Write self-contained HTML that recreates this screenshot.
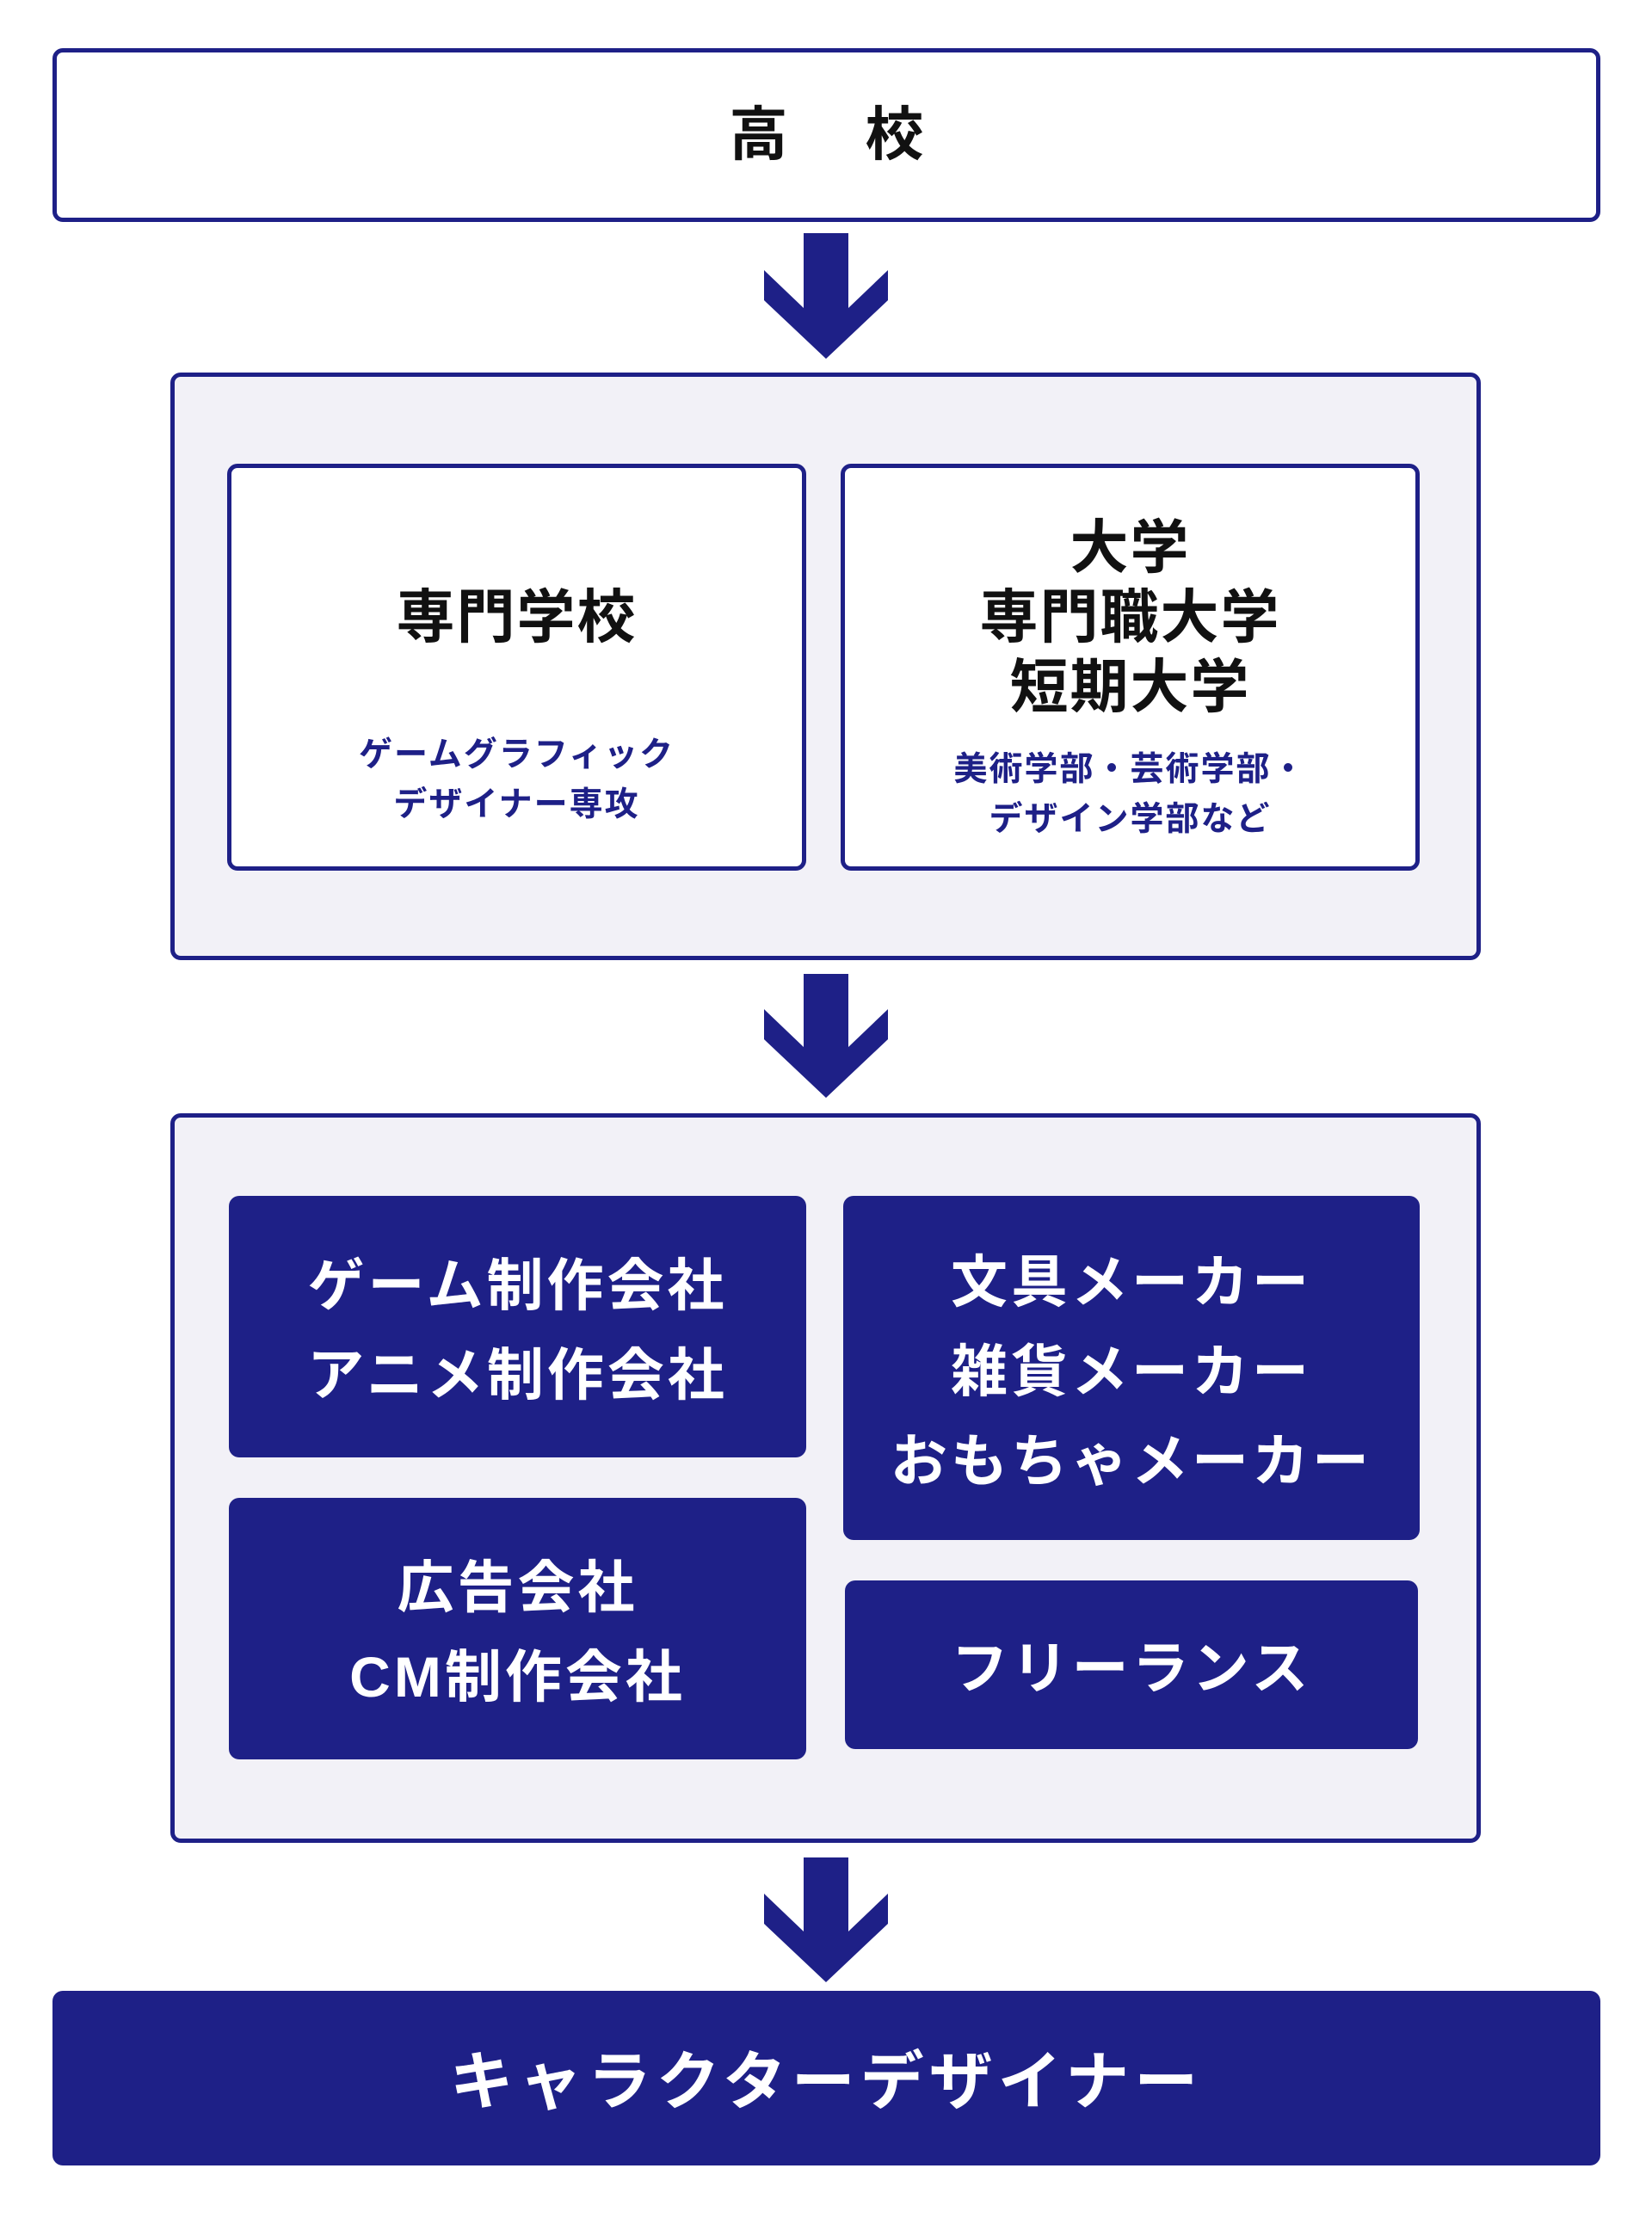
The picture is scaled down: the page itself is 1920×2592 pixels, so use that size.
<!DOCTYPE html>
<html><head><meta charset="utf-8"><style>
*{margin:0;padding:0;box-sizing:border-box}
body{width:1920px;height:2592px;background:#fff;position:relative;font-family:"Liberation Sans","Noto Sans CJK JP",sans-serif;font-weight:700;overflow:hidden}
.b{position:absolute;display:flex;flex-direction:column;align-items:center;justify-content:center;text-align:center}
.o{border:5px solid #1e2087;border-radius:12px}
.g{background:#f2f1f7}
.w{background:#fff}
.d{background:#1e2087;color:#fff;border-radius:12px;font-size:66px;letter-spacing:4px;line-height:104px;padding-top:8px}
.k{color:#111;font-size:68px;letter-spacing:2px;line-height:81px}
.s{color:#1e2087;font-size:39px;letter-spacing:2px;line-height:58px}
</style></head><body>
<div class="b o w" style="left:61px;top:56px;width:1799px;height:202px"><div class="k" style="font-size:68px;letter-spacing:90px;margin-right:-90px">高校</div></div>

<div class="b o g" style="left:198px;top:433px;width:1523px;height:683px"></div>
<div class="b o w" style="left:264px;top:539px;width:673px;height:473px;justify-content:flex-start">
 <div class="k" style="position:absolute;top:134px;width:100%">専門学校</div>
 <div class="s" style="position:absolute;top:305px;width:100%">ゲームグラフィック<br>デザイナー専攻</div>
</div>
<div class="b o w" style="left:977px;top:539px;width:673px;height:473px">
 <div class="k" style="position:absolute;top:53px;width:100%">大学<br>専門職大学<br>短期大学</div>
 <div class="s" style="position:absolute;top:322px;width:100%">美術学部・芸術学部・<br>デザイン学部など</div>
</div>

<div class="b o g" style="left:198px;top:1294px;width:1523px;height:848px"></div>
<div class="b d" style="left:266px;top:1390px;width:671px;height:304px">ゲーム制作会社<br>アニメ制作会社</div>
<div class="b d" style="left:266px;top:1741px;width:671px;height:304px">広告会社<br>CM制作会社</div>
<div class="b d" style="left:980px;top:1390px;width:670px;height:400px">文具メーカー<br>雑貨メーカー<br>おもちゃメーカー</div>
<div class="b d" style="left:982px;top:1837px;width:666px;height:196px">フリーランス</div>

<div class="b d" style="left:61px;top:2314px;width:1799px;height:203px;font-size:74px;letter-spacing:6px">キャラクターデザイナー</div>

<svg width="1920" height="2592" style="position:absolute;left:0;top:0" fill="#1e2087">
<polygon points="934,271 986,271 986,358 1032,314 1032,349 960,417 888,349 888,314 934,358"/>
<polygon points="934,1132 986,1132 986,1217 1032,1173 1032,1208 960,1276 888,1208 888,1173 934,1217"/>
<polygon points="934,2159 986,2159 986,2245 1032,2201 1032,2236 960,2304 888,2236 888,2201 934,2245"/>
</svg>
</body></html>
